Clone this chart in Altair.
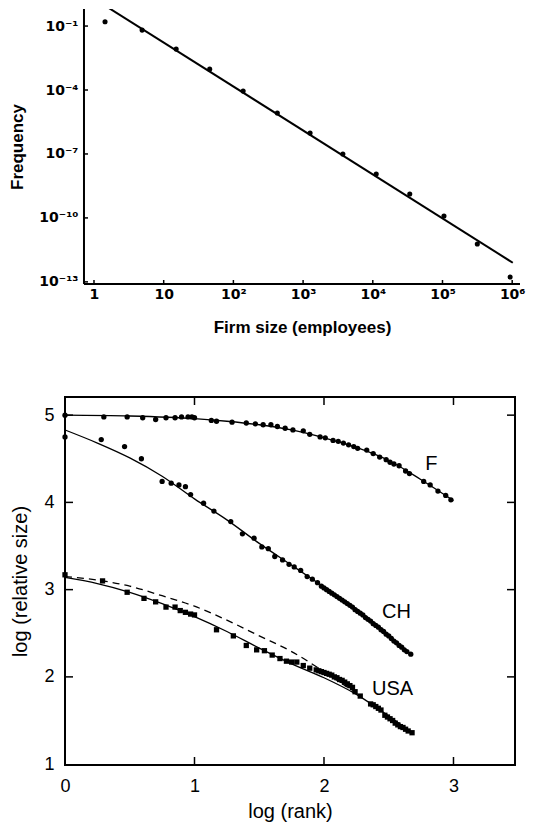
import altair as alt
import pandas as pd

# ---------------- Top panel: firm size distribution ----------------
firm_size = [1.44, 4.9, 15.1, 45.7, 138, 427, 1260, 3720, 11200, 33900, 105000, 316000, 933000]
frequency = [0.158, 0.0646, 8.3e-3, 9.5e-4, 8.9e-5, 8.3e-6, 9.5e-7, 1.0e-7,
             1.15e-8, 1.32e-9, 1.23e-10, 6.0e-12, 1.7e-13]
fit_size = [1.35, 1.02e6]
fit_freq = [1.04, 7.9e-13]
top_x_tick_values = [1, 10, 100, 1000, 10000, 100000, 1000000]
top_x_tick_labels = ["1", "10", "10²", "10³", "10⁴", "10⁵", "10⁶"]
top_y_tick_values = [1e-13, 1e-10, 1e-7, 1e-4, 1e-1]
top_y_tick_labels = ["10⁻¹³", "10⁻¹⁰", "10⁻⁷", "10⁻⁴", "10⁻¹"]
top_x_axis_range = [0.7185, 1.294e6]     # visible extent of the x axis line
top_y_axis_range = [10 ** -13.1, 10 ** -0.2]

# ---------------- Bottom panel: rank-size ----------------
F_x = [0, 0.30, 0.48, 0.60, 0.70, 0.78, 0.85, 0.90, 0.95, 0.98, 1.0, 1.13, 1.17, 1.29, 1.40,
       1.47, 1.53, 1.59, 1.64, 1.70, 1.76, 1.84, 1.89, 1.97, 2.01, 2.07, 2.11, 2.15, 2.19,
       2.23, 2.26, 2.33, 2.38, 2.43, 2.48, 2.51, 2.54, 2.58, 2.63, 2.66, 2.77, 2.82, 2.88,
       2.94, 2.98]
F_y = [5.00, 4.98, 4.98, 4.97, 4.95, 4.97, 4.97, 4.98, 4.98, 4.98, 4.97, 4.94, 4.93, 4.92, 4.91,
       4.90, 4.89, 4.89, 4.87, 4.85, 4.83, 4.82, 4.78, 4.75, 4.74, 4.71, 4.70, 4.68, 4.66,
       4.64, 4.62, 4.60, 4.56, 4.52, 4.49, 4.46, 4.44, 4.42, 4.36, 4.33, 4.24, 4.20, 4.13,
       4.08, 4.03]

CH_x = [0, 0.28, 0.46, 0.59, 0.75, 0.82, 0.88, 0.93, 0.97, 1.07, 1.15, 1.28, 1.37, 1.46, 1.52,
        1.57, 1.62, 1.68, 1.73, 1.77, 1.82, 1.87, 1.91, 1.95, 1.98, 2.00, 2.02, 2.04, 2.06,
        2.08, 2.10, 2.12, 2.14, 2.16, 2.18, 2.20, 2.22, 2.24, 2.26, 2.28, 2.30, 2.32, 2.34,
        2.36, 2.38, 2.40, 2.42, 2.44, 2.46, 2.48, 2.50, 2.52, 2.54, 2.56, 2.58, 2.60, 2.62,
        2.64, 2.67]
CH_y = [4.75, 4.72, 4.64, 4.50, 4.24, 4.22, 4.20, 4.18, 4.09, 3.99, 3.90, 3.78, 3.64, 3.59, 3.49,
        3.47, 3.38, 3.34, 3.29, 3.26, 3.22, 3.15, 3.12, 3.08, 3.04, 3.02, 3.00, 2.98, 2.96,
        2.94, 2.92, 2.90, 2.88, 2.86, 2.84, 2.82, 2.80, 2.77, 2.75, 2.73, 2.71, 2.68, 2.66,
        2.64, 2.61, 2.59, 2.57, 2.54, 2.52, 2.49, 2.47, 2.44, 2.41, 2.39, 2.36, 2.34, 2.31,
        2.29, 2.26]

USA_x = [0, 0.29, 0.48, 0.61, 0.70, 0.78, 0.85, 0.89, 0.93, 0.97, 1.00, 1.17, 1.30, 1.40, 1.48,
         1.54, 1.60, 1.66, 1.71, 1.75, 1.79, 1.84, 1.89, 1.94, 1.96, 1.98, 2.00, 2.02, 2.04,
         2.06, 2.08, 2.10, 2.12, 2.14, 2.16, 2.18, 2.20, 2.22, 2.24, 2.28, 2.36, 2.38, 2.40,
         2.42, 2.44, 2.47, 2.49, 2.51, 2.53, 2.55, 2.57, 2.59, 2.61, 2.63, 2.65, 2.68]
USA_y = [3.17, 3.10, 2.97, 2.90, 2.86, 2.80, 2.80, 2.76, 2.74, 2.72, 2.71, 2.54, 2.47, 2.36, 2.31,
         2.30, 2.25, 2.21, 2.18, 2.17, 2.17, 2.13, 2.10, 2.08, 2.07, 2.06, 2.05, 2.04, 2.03,
         2.02, 2.00, 1.99, 1.97, 1.96, 1.94, 1.92, 1.90, 1.88, 1.83, 1.78, 1.69, 1.68, 1.66,
         1.64, 1.62, 1.56, 1.54, 1.52, 1.50, 1.47, 1.45, 1.43, 1.42, 1.40, 1.38, 1.36]

fitF_x = [0, 0.5, 1.0, 1.25, 1.5, 1.75, 2.0, 2.25, 2.5, 2.75, 3.0]
fitF_y = [5.00, 4.99, 4.96, 4.93, 4.89, 4.83, 4.74, 4.63, 4.48, 4.26, 4.02]
fitCH_x = [0, 0.25, 0.5, 0.75, 1.0, 1.25, 1.5, 1.75, 2.0, 2.25, 2.5, 2.67]
fitCH_y = [4.83, 4.68, 4.51, 4.30, 4.04, 3.80, 3.53, 3.28, 3.03, 2.78, 2.48, 2.26]
fitUSA_x = [0, 0.25, 0.5, 0.75, 1.0, 1.25, 1.5, 1.75, 2.0, 2.25, 2.5, 2.68]
fitUSA_y = [3.14, 3.07, 2.97, 2.84, 2.69, 2.52, 2.33, 2.15, 1.99, 1.80, 1.55, 1.36]
dashUSA_x = [0, 0.25, 0.5, 0.75, 1.0, 1.25, 1.5, 1.75, 2.0, 2.28]
dashUSA_y = [3.15, 3.11, 3.04, 2.93, 2.81, 2.65, 2.47, 2.29, 2.06, 1.78]

series_labels = ["F", "CH", "USA"]
label_x = [2.83, 2.56, 2.53]
label_y = [4.44, 2.74, 1.86]

bottom_x_ticks = [0, 1, 2, 3]
bottom_y_ticks = [1, 2, 3, 4, 5]

FONT = "Liberation Sans"
SUPFONT = "DejaVu Sans"


def label_expr(values, labels):
    pairs = sorted(zip(values, labels))
    expr = ""
    for v, l in pairs[:-1]:
        expr += f"datum.value < {v * 3.1623} ? '{l}' : "
    return expr + f"'{pairs[-1][1]}'"


# ---------------- top chart ----------------
SHIFT = 19          # the top panel's axis sits this far right of the lower panel's frame
W1, H1 = 455, 275
xs1 = alt.Scale(type="log", domain=[10 ** -0.416, 10 ** 6.112], nice=False)
ys1 = alt.Scale(type="log", domain=top_y_axis_range, nice=False)

ax_x1 = alt.Axis(
    title="Firm size (employees)", values=top_x_tick_values,
    labelExpr=label_expr(top_x_tick_values, top_x_tick_labels),
    ticks=False, grid=False, domain=False,
    labelFont=SUPFONT, labelFontSize=14, labelFontWeight="bold", labelColor="black",
    labelPadding=3, labelFlush=False,
    titleFont=FONT, titleFontSize=17, titleFontWeight="bold", titleColor="black",
    titlePadding=18, titleX=237, titleAlign="center")
ax_y1 = alt.Axis(
    title="Frequency", values=top_y_tick_values,
    labelExpr=label_expr(top_y_tick_values, top_y_tick_labels),
    ticks=False, grid=False, domain=False, offset=-SHIFT,
    labelFont=SUPFONT, labelFontSize=14, labelFontWeight="bold", labelColor="black",
    labelPadding=6, labelFlush=False,
    titleFont=FONT, titleFontSize=17, titleFontWeight="bold", titleColor="black",
    titlePadding=12)

X1 = lambda f: alt.X(f"{f}:Q", scale=xs1, axis=ax_x1)
Y1 = lambda f: alt.Y(f"{f}:Q", scale=ys1, axis=ax_y1)

top_pts = pd.DataFrame({"size": firm_size, "freq": frequency})
top_fit = pd.DataFrame({"size": fit_size, "freq": fit_freq})

top_points = alt.Chart(top_pts).mark_point(
    shape="circle", filled=True, color="black", size=26, opacity=1
).encode(x=X1("size"), y=Y1("freq"))

top_line = alt.Chart(top_fit).mark_line(color="black", strokeWidth=2, clip=True).encode(
    x=X1("size"), y=Y1("freq"))

# axis lines
top_xaxis_line = alt.Chart(pd.DataFrame({"size": [top_x_axis_range[0]],
                                         "size2": [top_x_axis_range[1]]})).mark_rule(
    color="black", strokeWidth=2).encode(x=X1("size"), x2="size2:Q", y=alt.value(H1))
top_yaxis_line = alt.Chart(pd.DataFrame({"size": [top_x_axis_range[0]]})).mark_rule(
    color="black", strokeWidth=2).encode(x=X1("size"), y=alt.value(0), y2=alt.value(H1))

# inward ticks
top_xt = alt.Chart(pd.DataFrame({"size": top_x_tick_values})).mark_rule(
    color="black", strokeWidth=1.5).encode(x=X1("size"), y=alt.value(H1), y2=alt.value(H1 - 4))
top_yt = alt.Chart(pd.DataFrame({"freq": top_y_tick_values})).mark_rule(
    color="black", strokeWidth=1.5).encode(y=Y1("freq"), x=alt.value(SHIFT), x2=alt.value(SHIFT + 4))

top = alt.layer(top_points, top_line, top_xaxis_line, top_yaxis_line, top_xt, top_yt).properties(
    width=W1, height=H1, view=alt.ViewBackground(strokeWidth=0))

# ---------------- bottom chart ----------------
W2, H2 = 450, 368
xs2 = alt.Scale(domain=[0, 3.475], nice=False, zero=False)
ys2 = alt.Scale(domain=[0.99, 5.208], nice=False, zero=False)

ax_x2 = alt.Axis(title="log (rank)", values=bottom_x_ticks, format="d", ticks=False,
                 domain=False, grid=False, labelFont=FONT, labelFontSize=18,
                 labelColor="black", labelPadding=12, labelFlush=False,
                 titleFont=FONT, titleFontSize=20, titleFontWeight="normal",
                 titleColor="black", titlePadding=6)
ax_y2 = alt.Axis(title="log (relative size)", values=bottom_y_ticks, format="d", ticks=False,
                 domain=False, grid=False, labelFont=FONT, labelFontSize=18,
                 labelColor="black", labelPadding=11, labelFlush=False,
                 titleFont=FONT, titleFontSize=20, titleFontWeight="normal",
                 titleColor="black", titlePadding=13)

X2 = lambda: alt.X("x:Q", scale=xs2, axis=ax_x2)
Y2 = lambda: alt.Y("y:Q", scale=ys2, axis=ax_y2)


def pts(xv, yv, shape):
    df = pd.DataFrame({"x": xv, "y": yv})
    return alt.Chart(df).mark_point(shape=shape, filled=True, color="black", size=28,
                                    opacity=1).encode(x=X2(), y=Y2())


def curve(xv, yv, dash=None):
    df = pd.DataFrame({"x": xv, "y": yv})
    kw = dict(color="black", strokeWidth=1.3, interpolate="monotone")
    if dash:
        kw["strokeDash"] = dash
    return alt.Chart(df).mark_line(**kw).encode(x=X2(), y=Y2())


L = 8
b_xt_bottom = alt.Chart(pd.DataFrame({"x": bottom_x_ticks[1:]})).mark_rule(
    color="black", strokeWidth=1.5).encode(x=X2(), y=alt.value(H2), y2=alt.value(H2 - L))
b_xt_top = alt.Chart(pd.DataFrame({"x": bottom_x_ticks[1:]})).mark_rule(
    color="black", strokeWidth=1.5).encode(x=X2(), y=alt.value(0), y2=alt.value(L))
b_yt_left = alt.Chart(pd.DataFrame({"y": bottom_y_ticks[1:]})).mark_rule(
    color="black", strokeWidth=1.5).encode(y=Y2(), x=alt.value(0), x2=alt.value(L))
b_yt_right = alt.Chart(pd.DataFrame({"y": bottom_y_ticks[1:]})).mark_rule(
    color="black", strokeWidth=1.5).encode(y=Y2(), x=alt.value(W2), x2=alt.value(W2 - L))

labels = alt.Chart(pd.DataFrame({"name": series_labels, "x": label_x, "y": label_y})).mark_text(
    font=FONT, fontSize=20, color="black", align="center", baseline="middle").encode(
    x=X2(), y=Y2(), text="name:N")

bottom = alt.layer(
    pts(F_x, F_y, "circle"),
    pts(CH_x, CH_y, "circle"),
    pts(USA_x, USA_y, "square"),
    curve(fitF_x, fitF_y),
    curve(fitCH_x, fitCH_y),
    curve(fitUSA_x, fitUSA_y),
    curve(dashUSA_x, dashUSA_y, dash=[7, 5]),
    labels, b_xt_bottom, b_xt_top, b_yt_left, b_yt_right,
).properties(width=W2, height=H2,
             view=alt.ViewBackground(stroke="black", strokeWidth=2))

chart = alt.concat(top, bottom, columns=1, spacing=60).properties(
    padding=0, background="white")

chart.save("out.html", embed_options={"renderer": "svg", "actions": False})
